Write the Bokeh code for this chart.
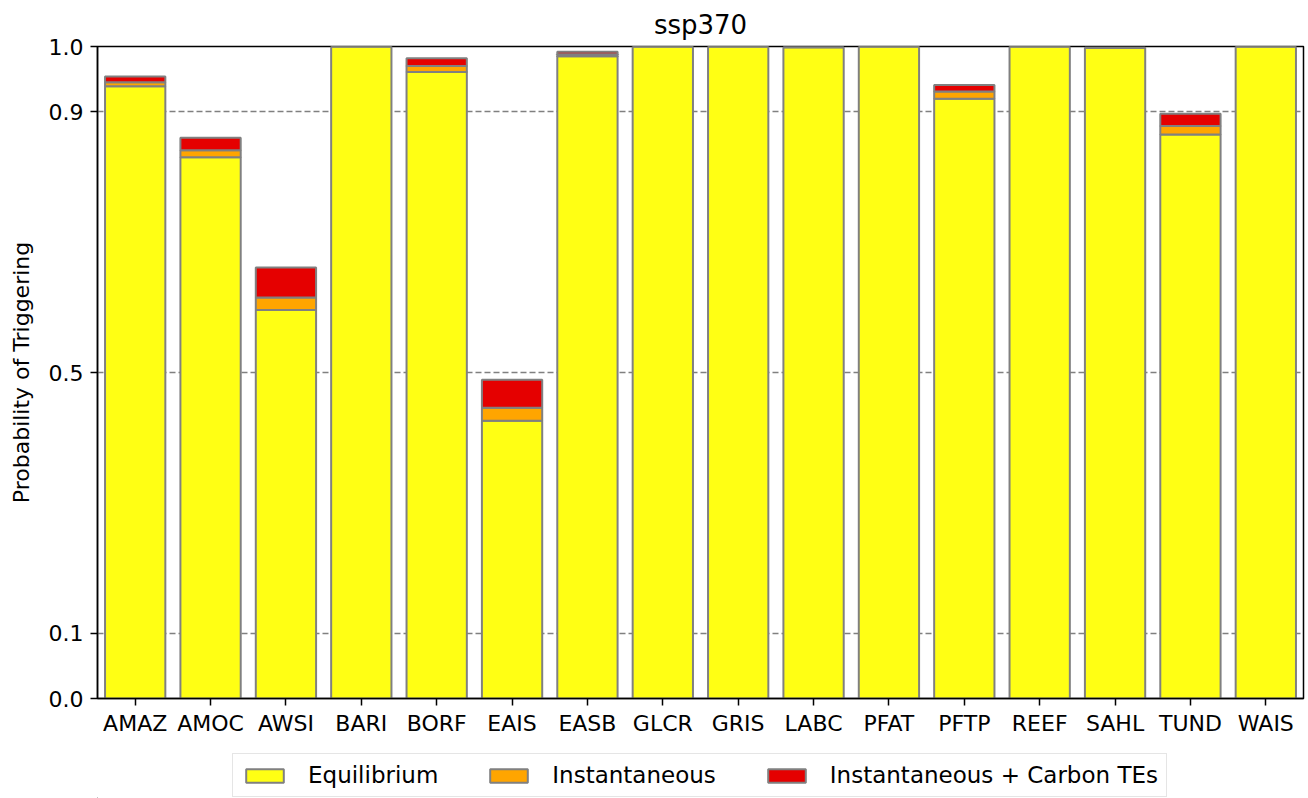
from bokeh.plotting import figure
from bokeh.layouts import column
from bokeh.models import Range1d, FactorRange, FixedTicker, Legend, LegendItem, ColumnDataSource, CustomJSTickFormatter
from bokeh.embed import file_html
from bokeh.resources import INLINE

categories = ["AMAZ", "AMOC", "AWSI", "BARI", "BORF", "EAIS", "EASB", "GLCR",
              "GRIS", "LABC", "PFAT", "PFTP", "REEF", "SAHL", "TUND", "WAIS"]
equilibrium = [0.939, 0.830, 0.596, 1.000, 0.961, 0.426, 0.985, 1.000,
               1.000, 0.999, 1.000, 0.920, 1.000, 0.998, 0.865, 1.000]
instantaneous = [0.945, 0.841, 0.615, 1.000, 0.970, 0.446, 0.988, 1.000,
                 1.000, 0.999, 1.000, 0.931, 1.000, 0.998, 0.878, 1.000]
inst_carbon = [0.954, 0.860, 0.661, 1.000, 0.982, 0.489, 0.992, 1.000,
               1.000, 0.999, 1.000, 0.941, 1.000, 0.998, 0.897, 1.000]
y_ticks = [0.0, 0.1, 0.5, 0.9, 1.0]
grid_ticks = [0.1, 0.5, 0.9]
labels = ["Equilibrium", "Instantaneous", "Instantaneous + Carbon TEs"]
colors = ["#ffff14", "#ffa500", "#e50000"]

FONT = "DejaVu Sans"
EDGE = "#808080"

p = figure(x_range=FactorRange(*categories, range_padding=0), y_range=Range1d(0, 1),
           frame_width=1206, frame_height=652, output_backend="svg", toolbar_location=None,
           title="ssp370")
p.min_border_left = 97
p.min_border_right = 4
p.min_border_top = 46
p.min_border_bottom = 50

src = ColumnDataSource(dict(cat=categories, eq=equilibrium, inst=instantaneous, ic=inst_carbon,
                            zero=[0.0] * len(categories)))

p.vbar(x="cat", bottom="zero", top="eq", width=0.8, source=src,
       fill_color=colors[0], line_color=EDGE, line_width=2)
p.vbar(x="cat", bottom="eq", top="inst", width=0.8, source=src,
       fill_color=colors[1], line_color=EDGE, line_width=2)
p.vbar(x="cat", bottom="inst", top="ic", width=0.8, source=src,
       fill_color=colors[2], line_color=EDGE, line_width=2)

p.title.align = "center"
p.title.text_font = FONT
p.title.text_font_size = "26px"
p.title.text_font_style = "normal"
p.title.text_color = "black"
p.title.standoff = 14

p.outline_line_color = "black"
p.outline_line_width = 1.5
p.outline_line_alpha = 1

p.xgrid.visible = False
p.ygrid.ticker = FixedTicker(ticks=grid_ticks)
p.ygrid.grid_line_color = EDGE
p.ygrid.grid_line_dash = "6 3"
p.ygrid.grid_line_width = 1.3

p.yaxis.ticker = FixedTicker(ticks=y_ticks)
p.yaxis.formatter = CustomJSTickFormatter(code="return tick.toFixed(1);")
p.yaxis.axis_label = "Probability of Triggering"

for ax in (p.xaxis[0], p.yaxis[0]):
    ax.major_label_text_font = FONT
    ax.major_label_text_font_size = "22px"
    ax.major_label_text_color = "black"
    ax.axis_line_color = "black"
    ax.axis_line_width = 1.5
    ax.major_tick_line_color = "black"
    ax.major_tick_line_width = 1.5
    ax.major_tick_out = 7
    ax.major_tick_in = 0
    ax.minor_tick_line_color = None
    ax.axis_label_text_font = FONT
    ax.axis_label_text_font_size = "22px"
    ax.axis_label_text_font_style = "normal"
    ax.axis_label_text_color = "black"
    ax.major_label_standoff = 7

p.xaxis.major_label_standoff = 5
p.yaxis.axis_label_standoff = 12

# legend strip below the chart (its frame is aligned with the chart's frame)
lg = figure(width=1308, height=50, output_backend="svg", toolbar_location=None,
            x_range=Range1d(0, 1), y_range=Range1d(0, 1),
            x_axis_location=None, y_axis_location=None, min_border=0)
lg.outline_line_color = None
lg.grid.visible = False
rs = [lg.vbar(x=[-5], bottom=[-5], top=[-4], width=0.8, fill_color=c, line_color=EDGE, line_width=2)
      for c in colors]

legend = Legend(items=[LegendItem(label=l, renderers=[r]) for l, r in zip(labels, rs)],
                orientation="horizontal", location=(135, 1))
legend.label_text_font = FONT
legend.label_text_font_size = "23px"
legend.label_text_color = "black"
legend.glyph_width = 47
legend.glyph_height = 17
legend.label_standoff = 20
legend.spacing = 47
legend.padding = 8
legend.margin = 0
legend.border_line_color = "#cccccc"
legend.border_line_width = 1.5
legend.background_fill_alpha = 1
lg.add_layout(legend, "center")

layout = column(p, lg, spacing=0)
open("out.html", "w").write(file_html(layout, INLINE))
